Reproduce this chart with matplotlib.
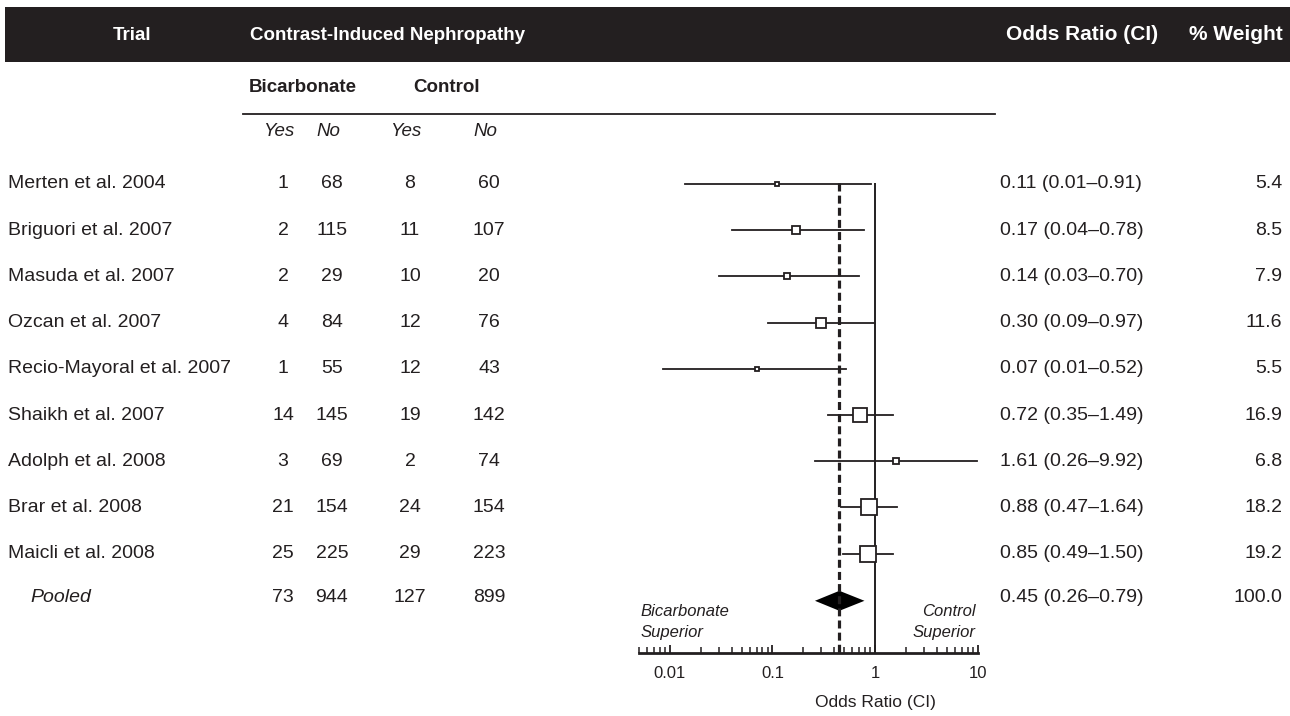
import matplotlib.pyplot as plt
from matplotlib.patches import Rectangle, Polygon
import numpy as np

trials = ["Merten et al. 2004", "Briguori et al. 2007", "Masuda et al. 2007",
          "Ozcan et al. 2007", "Recio-Mayoral et al. 2007", "Shaikh et al. 2007",
          "Adolph et al. 2008", "Brar et al. 2008", "Maicli et al. 2008"]
bic_yes = [1, 2, 2, 4, 1, 14, 3, 21, 25]
bic_no = [68, 115, 29, 84, 55, 145, 69, 154, 225]
ctl_yes = [8, 11, 10, 12, 12, 19, 2, 24, 29]
ctl_no = [60, 107, 20, 76, 43, 142, 74, 154, 223]
odds = [0.11, 0.17, 0.14, 0.30, 0.07, 0.72, 1.61, 0.88, 0.85]
ci_lo = [0.014, 0.04, 0.03, 0.09, 0.0086, 0.35, 0.26, 0.47, 0.49]
ci_hi = [0.91, 0.78, 0.70, 0.97, 0.52, 1.49, 9.92, 1.64, 1.50]
weight = [5.4, 8.5, 7.9, 11.6, 5.5, 16.9, 6.8, 18.2, 19.2]

pooled_counts = [73, 944, 127, 899]
pooled_or, pooled_lo, pooled_hi = 0.45, 0.26, 0.79

xticks = [0.01, 0.1, 1, 10]
xtick_labels = ["0.01", "0.1", "1", "10"]

W, H = 1290, 716
INK = "#231f20"
plt.rcParams['font.family'] = ['Liberation Sans', 'DejaVu Sans']

fig = plt.figure(figsize=(W / 100, H / 100), dpi=100)

# table part, pixel coords
tab = fig.add_axes([0, 0, 1, 1])
tab.set_xlim(0, W)
tab.set_ylim(H, 0)
tab.axis("off")

tab.add_patch(Rectangle((5, 7), W - 5, 55, color=INK, lw=0))
tab.text(132, 35, "Trial", color="white", fontsize=13.5, fontweight="bold",
         ha="center", va="center")
tab.text(250, 35, "Contrast-Induced Nephropathy", color="white", fontsize=13.5,
         fontweight="bold", ha="left", va="center")
tab.text(1006, 35, "Odds Ratio (CI)", color="white", fontsize=15, fontweight="bold",
         ha="left", va="center")
tab.text(1283, 35, "% Weight", color="white", fontsize=15, fontweight="bold",
         ha="right", va="center")

tab.text(303, 88, "Bicarbonate", color=INK, fontsize=13.5, fontweight="bold",
         ha="center", va="center")
tab.text(447, 88, "Control", color=INK, fontsize=13.5, fontweight="bold",
         ha="center", va="center")
tab.plot([243, 995], [114, 114], color=INK, lw=1.3)

cols = [283, 332, 410, 489]
for cx, lab in zip(cols, ["Yes", "No", "Yes", "No"]):
    tab.text(cx - 4, 131, lab, color=INK, fontsize=13.5, style="italic",
             ha="center", va="center")

row_y = 184 + 46.2 * np.arange(len(trials) + 1)

for i, name in enumerate(trials):
    y = row_y[i]
    tab.text(8, y, name, color=INK, fontsize=14, ha="left", va="center")
    for cx, v in zip(cols, [bic_yes[i], bic_no[i], ctl_yes[i], ctl_no[i]]):
        tab.text(cx, y, str(v), color=INK, fontsize=14, ha="center", va="center")
    tab.text(1000, y, f"{odds[i]:.2f} ({ci_lo[i]:.2f}\u2013{ci_hi[i]:.2f})",
             color=INK, fontsize=14, ha="left", va="center")
    tab.text(1282, y, f"{weight[i]:.1f}", color=INK, fontsize=14,
             ha="right", va="center")

yp = row_y[-1]
tab.text(30, yp - 2, "Pooled", color=INK, fontsize=14, style="italic",
         ha="left", va="center")
for cx, v in zip(cols, pooled_counts):
    tab.text(cx, yp - 2, str(v), color=INK, fontsize=14, ha="center", va="center")
tab.text(1000, yp - 2, f"{pooled_or:.2f} ({pooled_lo:.2f}\u2013{pooled_hi:.2f})",
         color=INK, fontsize=14, ha="left", va="center")
tab.text(1282, yp - 2, f"{sum(weight):.1f}", color=INK, fontsize=14,
         ha="right", va="center")

# forest part, log x
x0, x1 = 639, 977.5
ax = fig.add_axes([x0 / W, 0, (x1 - x0) / W, 1])
ax.patch.set_alpha(0)
ax.set_xscale("log")
ax.set_xlim(0.005, 10)
ax.set_ylim(H, 0)
axis_y = 653
for s in ["top", "left", "right"]:
    ax.spines[s].set_visible(False)
ax.spines["bottom"].set_position(("data", axis_y))
ax.spines["bottom"].set_linewidth(2)
ax.spines["bottom"].set_color(INK)
ax.set_yticks([])
ax.set_xticks(xticks)
ax.set_xticklabels(xtick_labels)
ax.tick_params(axis="x", which="major", direction="in", length=6, width=1.3,
               pad=9, labelsize=12, colors=INK)
ax.tick_params(axis="x", which="minor", direction="in", length=4, width=1.1,
               colors=INK)

ax.vlines(1, row_y[0] - 1, axis_y, color=INK, lw=1.4)
ax.vlines(pooled_or, row_y[0] - 1, axis_y, color=INK, lw=2.3,
          linestyles=[(0, (2.5, 1.3))])

for i in range(len(trials)):
    y = row_y[i]
    ax.plot([ci_lo[i], ci_hi[i]], [y, y], color=INK, lw=1.3)
    ax.plot(odds[i], y, marker="s", ms=weight[i] * 0.6, mfc="white",
            mec=INK, mew=1.3)

ax.add_patch(Polygon([(pooled_lo, yp + 1), (pooled_or, yp - 9),
                      (pooled_hi, yp + 1), (pooled_or, yp + 11)],
                     closed=True, color="black", lw=0))

ax.text(0.0052, 622, "Bicarbonate\nSuperior", color=INK, fontsize=12,
        style="italic", ha="left", va="center", linespacing=1.55)
ax.text(9.6, 622, "Control\nSuperior", color=INK, fontsize=12,
        style="italic", ha="right", va="center", multialignment="right",
        linespacing=1.55)
ax.text(1, 703, "Odds Ratio (CI)", color=INK, fontsize=12.5, ha="center",
        va="center")

fig.savefig("out.png", dpi=100)
